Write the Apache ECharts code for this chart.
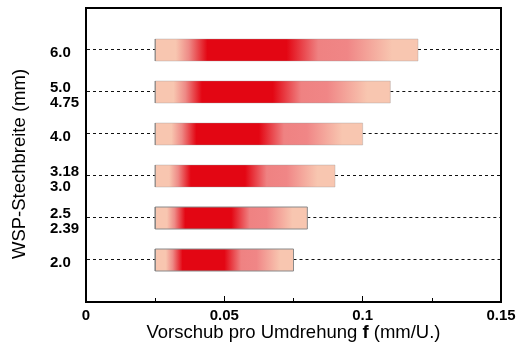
<!DOCTYPE html>
<html>
<head>
<meta charset="utf-8">
<script src="https://cdn.jsdelivr.net/npm/echarts@6/dist/echarts.min.js"></script>
<style>html,body{margin:0;padding:0;background:#fff;}#c{width:517px;height:347px;}</style>
</head>
<body>
<div id="c"></div>
<script>
// Data
var yPositions = [1, 2, 3, 4, 5, 6];
var widthLabels = ['', '2.0', '2.5\n2.39', '3.18\n3.0', '4.0', '5.0\n4.75', '6.0', ''];
var feedMin = [0.025, 0.025, 0.025, 0.025, 0.025, 0.025];
var feedMax = [0.075, 0.08, 0.09, 0.1, 0.11, 0.12];
var xTicks = [0, 0.05, 0.1, 0.15];

var chart = echarts.init(document.getElementById('c'), null, {renderer: 'canvas'});
var data = yPositions.map(function (y, i) { return [feedMin[i], feedMax[i], y]; });
var FONT = 'Liberation Sans, Arial, sans-serif';

function grad() {
  return new echarts.graphic.LinearGradient(0, 0, 1, 0, [
    {offset: 0, color: '#f8c6b0'},
    {offset: 0.08, color: '#f8c6b0'},
    {offset: 0.13, color: '#ee8a86'},
    {offset: 0.2, color: '#e30613'},
    {offset: 0.5, color: '#e30613'},
    {offset: 0.62, color: '#ef8282'},
    {offset: 0.73, color: '#f08686'},
    {offset: 0.9, color: '#f8c6b0'},
    {offset: 1, color: '#f8c6b0'}
  ]);
}

var option = {
  animation: false,
  grid: {left: 86, right: 16, top: 8, bottom: 45, show: true, borderColor: '#000', borderWidth: 2,
    containLabel: false, outerBoundsMode: 'none'},
  xAxis: {
    type: 'value', min: 0, max: 0.15, interval: 0.05,
    axisLine: {show: true, lineStyle: {color: '#000', width: 2}},
    axisTick: {show: true, inside: true, length: 6, lineStyle: {color: '#000', width: 1}},
    minorTick: {show: true, splitNumber: 2, length: 4, lineStyle: {color: '#000'}},
    splitLine: {show: false},
    axisLabel: {
      color: '#000', fontWeight: 'bold', fontSize: 15, fontFamily: FONT, margin: 6,
      formatter: function (v) {
        for (var i = 0; i < xTicks.length; i++) if (Math.abs(xTicks[i] - v) < 1e-9) return String(xTicks[i]);
        return '';
      }
    },
    name: 'Vorschub pro Umdrehung {b|f} (mm/U.)',
    nameLocation: 'middle', nameGap: 21, nameMoveOverlap: false,
    nameTextStyle: {color: '#000', fontSize: 18.5, fontFamily: FONT, rich: {b: {fontWeight: 'bold', fontSize: 18.5, fontFamily: FONT, color: '#000'}}}
  },
  yAxis: {
    type: 'value', min: 0, max: 7, interval: 1,
    axisLine: {show: true, lineStyle: {color: '#000', width: 2}},
    axisTick: {show: false},
    splitLine: {show: false},
    axisLabel: {
      color: '#000', fontWeight: 'bold', fontSize: 15, fontFamily: FONT, lineHeight: 15,
      align: 'left', margin: 36,
      formatter: function (v) {
        var t = widthLabels[Math.round(v)] || '';
        if (!t) return '';
        return '{s| }\n' + t.split('\n').map(function (l) { return '{b|' + l + '}'; }).join('\n');
      },
      rich: {
        s: {fontSize: 1, lineHeight: 6},
        b: {fontWeight: 'bold', fontSize: 15, fontFamily: FONT, lineHeight: 15, color: '#000'}
      }
    }
  },
  graphic: [{
    type: 'text', x: 20, y: 164, rotation: Math.PI / 2,
    style: {text: 'WSP-Stechbreite (mm)', fill: '#000', font: '18.5px ' + FONT, textAlign: 'center', textVerticalAlign: 'middle'}
  }],
  series: [{
    type: 'custom',
    data: data,
    encode: {x: [0, 1], y: 2},
    renderItem: function (params, api) {
      var y = api.value(2);
      var s = api.coord([api.value(0), y]);
      var e = api.coord([api.value(1), y]);
      var a0 = api.coord([0, y]);
      var a1 = api.coord([0.15, y]);
      var ly = Math.round(s[1]) - 0.5;
      var h = 22;
      var strong = params.dataIndex < 2;
      return {
        type: 'group',
        children: [
          {type: 'line', shape: {x1: a0[0] + 1, y1: ly, x2: s[0], y2: ly},
            style: {stroke: '#111', lineWidth: 1, lineDash: [3, 3]}},
          {type: 'line', shape: {x1: e[0], y1: ly, x2: a1[0] - 1, y2: ly},
            style: {stroke: '#111', lineWidth: 1, lineDash: [3, 3]}},
          {type: 'rect', shape: {x: s[0], y: s[1] - h / 2, width: e[0] - s[0], height: h},
            style: {fill: grad(), stroke: strong ? '#8a8a8a' : 'rgba(150,150,150,0.35)', lineWidth: 1}},
          {type: 'line', shape: {x1: s[0], y1: s[1] - h / 2, x2: s[0], y2: s[1] + h / 2},
            style: {stroke: '#777', lineWidth: 1}}
        ]
      };
    }
  }]
};
chart.setOption(option);
</script>
</body>
</html>
